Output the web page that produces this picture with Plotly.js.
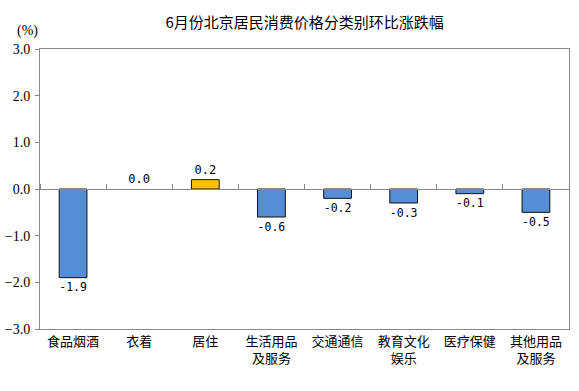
<!DOCTYPE html>
<html><head><meta charset="utf-8">
<script src="https://cdn.plot.ly/plotly-3.0.1.min.js"></script>
<style>body{margin:0;background:#fff}#c{width:579px;height:391px}</style>
</head><body><div id="c"></div>
<script>
const categories = ['食品烟酒','衣着','居住','生活用品<br>及服务','交通通信','教育文化<br>娱乐','医疗保健','其他用品<br>及服务'];
const values = [-1.9, 0.0, 0.2, -0.6, -0.2, -0.3, -0.1, -0.5];
const yTicks = [-3, -2, -1, 0, 1, 2, 3];
const title = '6月份北京居民消费价格分类别环比涨跌幅';
const unitLabel = '(%)';

const colors = values.map(v => v > 0 ? '#FFC000' : '#558ED5');
const lineWidths = values.map(v => v === 0 ? 0 : 1);
const cjk = '"Noto Sans CJK SC", sans-serif';

const data = [{
  type: 'bar', x: categories, y: values,
  marker: {color: colors, line: {color: '#111', width: lineWidths}},
  texttemplate: '%{y:.1f}', textposition: 'outside', cliponaxis: false,
  textfont: {family: '"DejaVu Sans Mono", monospace', size: 12, color: '#000'},
  hoverinfo: 'skip', width: 0.42
}, {
  type: 'scatter', x: [0, 7], y: [0, 0], xaxis: 'x2', yaxis: 'y',
  mode: 'lines', line: {width: 0}, hoverinfo: 'skip', showlegend: false
}];

const layout = {
  width: 579, height: 391,
  margin: {l: 39.5, r: 9.5, t: 48.5, b: 62},
  paper_bgcolor: '#fff', plot_bgcolor: '#fff',
  showlegend: false,
  title: {text: title, x: 0.526, xanchor: 'center', y: 0.942, yanchor: 'middle',
          font: {family: cjk, size: 15, color: '#000'}},
  xaxis: {type: 'category', range: [-0.5, 7.5], showline: true, mirror: true,
          linecolor: '#888', linewidth: 1, ticks: '', showgrid: false, zeroline: false,
          tickfont: {family: cjk, size: 13, color: '#000'}, fixedrange: true},
  xaxis2: {overlaying: 'x', anchor: 'free', position: 0.5, side: 'top',
           range: [-0.5, 7.5], tickmode: 'linear', tick0: 0.5, dtick: 1,
           showticklabels: false, ticks: 'outside', ticklen: 5, tickcolor: '#888',
           showline: true, linecolor: '#888', linewidth: 1, showgrid: false, zeroline: false},
  yaxis: {range: [-3, 3], tickvals: yTicks, tickformat: '.1f', showline: true, mirror: true,
          linecolor: '#888', linewidth: 1, ticks: 'outside', ticklen: 4, tickcolor: '#888',
          showgrid: false, zeroline: false, ticklabelstandoff: 2,
          tickfont: {family: '"Liberation Serif", serif', size: 14, color: '#000'}},
  annotations: [{text: unitLabel, xref: 'paper', yref: 'paper', x: -0.0245, y: 1.066,
                 xanchor: 'center', yanchor: 'middle', showarrow: false,
                 font: {family: '"Liberation Serif", serif', size: 14, color: '#000'}}]
};
Plotly.newPlot('c', data, layout, {staticPlot: true});
</script></body></html>
